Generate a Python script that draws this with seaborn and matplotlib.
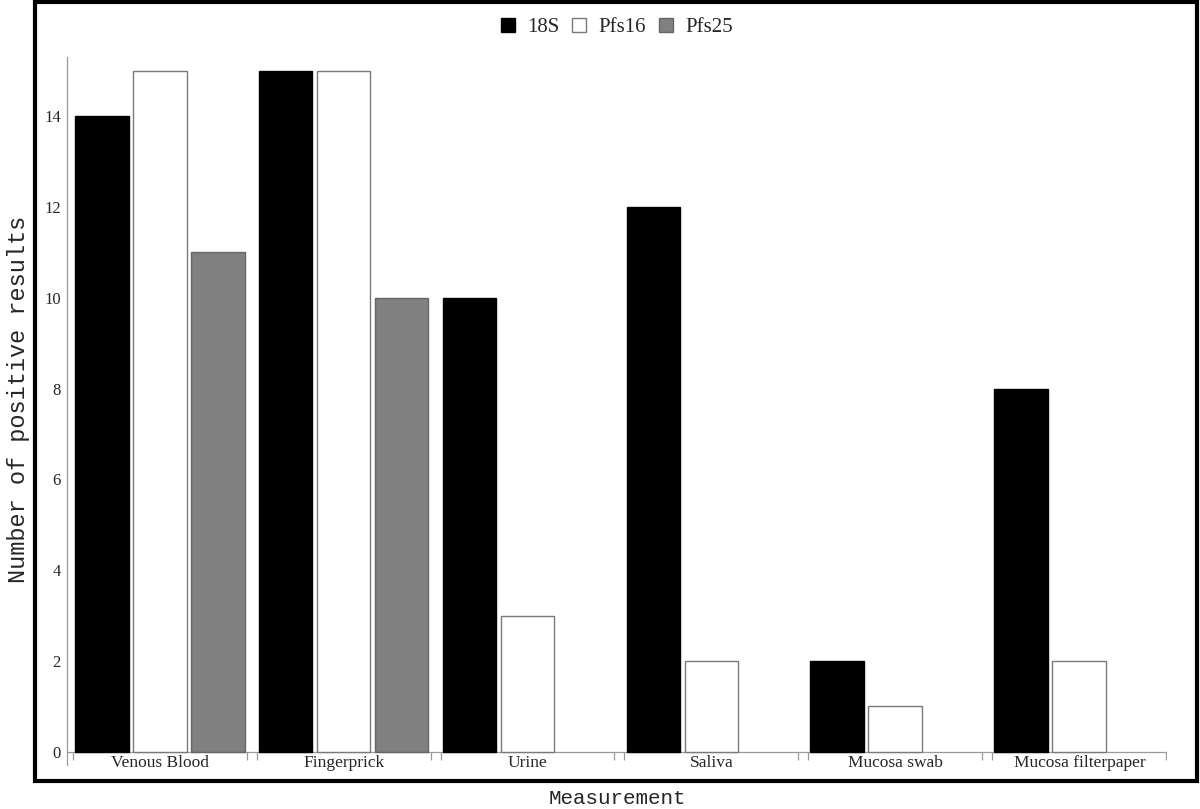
import numpy as np
import pandas as pd
import matplotlib
matplotlib.use("Agg")
import matplotlib.pyplot as plt
import seaborn as sns
from matplotlib.patches import Rectangle

# --- data ---
measurements = ["Venous Blood", "Fingerprick", "Urine", "Saliva",
                "Mucosa swab", "Mucosa filterpaper"]
targets = ["18S", "Pfs16", "Pfs25"]
counts_18s = [14, 15, 10, 12, 2, 8]
counts_pfs16 = [15, 15, 3, 2, 1, 2]
counts_pfs25 = [11, 10, 0, 0, 0, 0]

fill_colors = {"18S": "black", "Pfs16": "white", "Pfs25": "#808080"}
edge_colors = {"18S": "black", "Pfs16": "#7a7a7a", "Pfs25": "#666666"}

df = pd.DataFrame({
    "Measurement": measurements * 3,
    "Target": [t for t in targets for _ in measurements],
    "Count": counts_18s + counts_pfs16 + counts_pfs25,
})

sns.set_style("white")
plt.rcParams["font.family"] = ["Liberation Serif", "DejaVu Serif"]

fig = plt.figure(figsize=(12, 8.09), dpi=100)
ax = fig.add_axes([67 / 1200, 1 - 765 / 809, 1100 / 1200, 708 / 809])

group_w = 174 / 184
sns.barplot(data=df, x="Measurement", y="Count", hue="Target",
            order=measurements, hue_order=targets, palette=fill_colors,
            width=group_w, gap=0.07, linewidth=1.0, saturation=1,
            ax=ax)

for cont, t in zip(ax.containers, targets):
    for bar in cont:
        bar.set_edgecolor(edge_colors[t])
        if bar.get_height() == 0:
            bar.set_visible(False)

axis_gray = "#9a9a9a"
ax.set_xlim(-0.503, 5.476)
ax.set_ylim(-0.29, 15.3)

# category axis: continuous baseline plus group end ticks
ax.axhline(0, xmin=0, xmax=1, color=axis_gray, lw=0.9, zorder=0.5)
ends = [p for i in range(len(measurements)) for p in (i - group_w / 2, i + group_w / 2)]
ax.vlines(ends, -0.18, 0, color=axis_gray, lw=0.9)

for side in ["top", "right", "bottom"]:
    ax.spines[side].set_visible(False)
ax.spines["left"].set_color(axis_gray)
ax.spines["left"].set_linewidth(0.9)

ax.set_yticks(np.arange(0, 15, 2))
ax.set_yticks(np.arange(1, 16, 2), minor=True)
ax.tick_params(axis="y", which="major", length=3, width=0.8, color=axis_gray,
               pad=1.5, labelsize=12)
ax.tick_params(axis="y", which="minor", length=2, width=0.8, color=axis_gray)
ax.tick_params(axis="x", length=0, pad=-7.5, labelsize=12.5)

ax.set_xlabel("Measurement", family="Liberation Mono", fontsize=15)
ax.set_ylabel("Number of positive results", family="Liberation Mono", fontsize=17)
ax.xaxis.set_label_coords(0.5, -0.034)
ax.yaxis.set_label_coords(-0.034, 0.516)

leg = ax.legend(loc="center", bbox_to_anchor=(0.5, 1.042), ncol=3, frameon=False,
                fontsize=15, handlelength=0.67, handleheight=0.67,
                handletextpad=0.6, columnspacing=0.6, title=None)
for h, t in zip(leg.legend_handles, targets):
    h.set_edgecolor(edge_colors[t])
    h.set_linewidth(1.0)

fig.patches.append(Rectangle((35 / 1200, 1 - 781 / 809), 1162 / 1200, 779 / 809,
                             transform=fig.transFigure, fill=False,
                             lw=3, ec="black", zorder=10))

fig.savefig("out.png", dpi=100)
